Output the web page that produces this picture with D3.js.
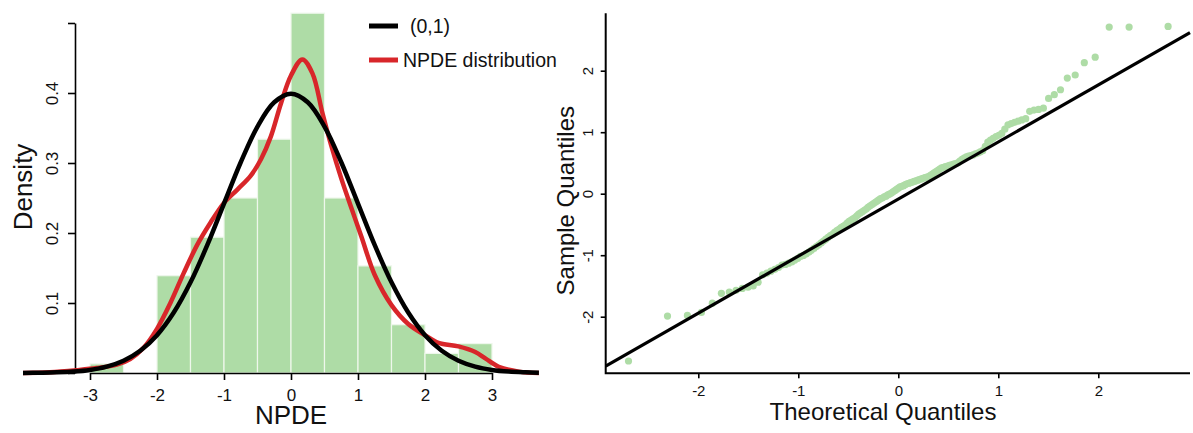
<!DOCTYPE html>
<html>
<head>
<meta charset="utf-8">
<script src="https://cdn.jsdelivr.net/npm/d3@7"></script>
<style>
  body { margin: 0; background: #fff; }
  text { font-family: "Liberation Sans", Arial, Helvetica, sans-serif; fill: #111; }
</style>
</head>
<body>
<div id="chart"></div>
<script>
// histogram of the npde values (density per 0.5 bin)
var binStarts = [-3, -2.5, -2, -1.5, -1, -0.5, 0, 0.5, 1, 1.5, 2, 2.5];
var binWidth = 0.5;
var binDensity = [0.013, 0, 0.139, 0.194, 0.25, 0.334, 0.514, 0.25, 0.153, 0.069, 0.028, 0.042];

// standard normal reference curve (0,1)
var normX = [-4, -3.75, -3.5, -3.25, -3, -2.75, -2.5, -2.25, -2, -1.75, -1.5, -1.25, -1, -0.75, -0.5, -0.25,
  0, 0.25, 0.5, 0.75, 1, 1.25, 1.5, 1.75, 2, 2.25, 2.5, 2.75, 3, 3.25, 3.5, 3.7];
var normY = [0.0001, 0.0004, 0.0009, 0.002, 0.0044, 0.0091, 0.0175, 0.0317, 0.054, 0.0863, 0.1295, 0.1826, 0.242, 0.3011, 0.3521, 0.3867,
  0.3989, 0.3867, 0.3521, 0.3011, 0.242, 0.1826, 0.1295, 0.0863, 0.054, 0.0317, 0.0175, 0.0091, 0.0044, 0.002, 0.0009, 0.0004];

// npde kernel density
var npdeX = [-4, -3.6, -3.2, -2.9, -2.6, -2.4, -2.2, -2, -1.8, -1.6, -1.4, -1.2, -1, -0.8, -0.6, -0.45, -0.3, -0.15,
  0, 0.17, 0.32, 0.47, 0.6, 0.75, 0.9, 1.05, 1.25, 1.5, 1.75, 2, 2.2, 2.5, 2.75, 2.9, 3.1, 3.4, 3.7];
var npdeY = [0, 0.001, 0.004, 0.007, 0.012, 0.02, 0.036, 0.063, 0.1, 0.143, 0.183, 0.215, 0.243, 0.262, 0.282, 0.305, 0.338, 0.385,
  0.425, 0.448, 0.428, 0.371, 0.325, 0.278, 0.236, 0.195, 0.14, 0.097, 0.07, 0.054, 0.043, 0.038, 0.03, 0.021, 0.009, 0.002, 0];

var densityTicks = [0, 0.1, 0.2, 0.3, 0.4, 0.5];
var npdeTicks = [-3, -2, -1, 0, 1, 2, 3];

// qq plot: theoretical vs sample quantiles
var theoQ = [-2.698, -2.308, -2.109, -1.969, -1.86, -1.769, -1.69, -1.622, -1.56, -1.503,
  -1.451, -1.402, -1.357, -1.314, -1.274, -1.235, -1.198, -1.163, -1.129, -1.097,
  -1.065, -1.035, -1.005, -0.977, -0.949, -0.922, -0.895, -0.87, -0.844, -0.819,
  -0.795, -0.771, -0.748, -0.725, -0.702, -0.68, -0.658, -0.637, -0.615, -0.594,
  -0.573, -0.553, -0.532, -0.512, -0.492, -0.472, -0.453, -0.433, -0.414, -0.396,
  -0.377, -0.358, -0.34, -0.321, -0.303, -0.285, -0.266, -0.248, -0.23, -0.212,
  -0.195, -0.177, -0.159, -0.141, -0.123, -0.105, -0.088, -0.07, -0.053, -0.035,
  -0.018, 0,
  0.018, 0.035, 0.053, 0.07, 0.088, 0.105, 0.123, 0.141, 0.159, 0.177,
  0.195, 0.212, 0.23, 0.248, 0.266, 0.285, 0.303, 0.321, 0.34, 0.358,
  0.377, 0.396, 0.414, 0.433, 0.453, 0.472, 0.492, 0.512, 0.532, 0.553,
  0.573, 0.594, 0.615, 0.637, 0.658, 0.68, 0.702, 0.725, 0.748, 0.771,
  0.795, 0.819, 0.844, 0.87, 0.895, 0.922, 0.949, 0.977, 1.005, 1.035,
  1.065, 1.097, 1.129, 1.163, 1.198, 1.235, 1.274, 1.314, 1.357, 1.402,
  1.451, 1.503, 1.56, 1.622, 1.69, 1.769, 1.86, 1.969, 2.109, 2.308, 2.698];
var sampleQ = [-2.72,
  -1.99, -1.98, -1.93, -1.78, -1.62, -1.6, -1.57, -1.54, -1.52, -1.5,
  -1.44, -1.32, -1.29, -1.26, -1.23, -1.2, -1.16, -1.15, -1.13, -1.11, -1.08, -1.05, -1.02, -1.005,
  -0.98, -0.95, -0.92, -0.89, -0.86, -0.83, -0.8, -0.77, -0.74, -0.71, -0.68, -0.66, -0.63, -0.6, -0.58, -0.55, -0.53, -0.51,
  -0.48, -0.45, -0.43, -0.41, -0.39, -0.36, -0.33, -0.31, -0.29, -0.27, -0.25, -0.22, -0.2, -0.18, -0.16, -0.14, -0.12, -0.1,
  -0.08, -0.07, -0.05, -0.04, -0.02, -0.005,
  0.01, 0.03, 0.05, 0.07, 0.09, 0.11, 0.12, 0.13, 0.15, 0.16, 0.17, 0.18, 0.19, 0.2, 0.21, 0.22, 0.23, 0.24, 0.25, 0.26,
  0.27, 0.28, 0.3, 0.32, 0.34, 0.36, 0.38, 0.4, 0.42, 0.43, 0.44, 0.45, 0.46, 0.47, 0.48, 0.49, 0.5,
  0.53, 0.56, 0.58, 0.6, 0.61, 0.62, 0.63, 0.65, 0.66, 0.68, 0.7, 0.77, 0.84, 0.87, 0.9, 0.93, 0.95, 0.98,
  1.05, 1.12, 1.14, 1.16, 1.18, 1.2, 1.22, 1.34, 1.36, 1.37, 1.39,
  1.55, 1.61, 1.69, 1.88, 1.93,
  2.13, 2.22,
  2.71, 2.71, 2.72];
// qqline through the quartiles
var qqIntercept = -0.087;
var qqSlope = 0.928;
var qqTicks = [-2, -1, 0, 1, 2];

var legendKeys = ["(0,1)", "NPDE distribution"];
var legendColors = ["#000000", "#d8262a"];

var svgWidth = 1193;
var svgHeight = 433;
var green = "#aedca6";

var svg = d3.select("#chart")
  .append("svg")
  .attr("width", svgWidth)
  .attr("height", svgHeight);

//---------------- left panel: histogram + densities
var xLeft = d3.scaleLinear().domain([-3, 3]).range([90, 492]);
var yLeft = d3.scaleLinear().domain([0, 0.5]).range([373, 23]);

var bars = svg.append("g");
bars.selectAll("rect")
  .data(binStarts)
  .enter()
  .append("rect")
  .attr("x", d => xLeft(d))
  .attr("width", d => xLeft(d + binWidth) - xLeft(d))
  .attr("y", (d, i) => yLeft(binDensity[i]))
  .attr("height", (d, i) => yLeft(0) - yLeft(binDensity[i]))
  .attr("fill", green)
  .attr("stroke", (d, i) => binDensity[i] > 0 ? "#eef7ec" : "#c4c4c4")
  .attr("stroke-width", 1.2);

//axes in R style (no outer ticks, labels parallel to the y axis, plain hyphen minus)
var leftAxis = d3.axisLeft(yLeft)
  .tickValues(densityTicks)
  .tickSize(7)
  .tickSizeOuter(0)
  .tickFormat(d => (d > 0 && d < 0.5) ? d.toFixed(1) : "");
var gy = svg.append("g")
  .attr("transform", "translate(75,0)")
  .call(leftAxis);
gy.selectAll("text")
  .attr("transform", "rotate(-90)")
  .attr("x", 0)
  .attr("y", -17)
  .attr("dy", 0)
  .attr("text-anchor", "middle")
  .style("font-size", "17px");

var bottomAxis = d3.axisBottom(xLeft)
  .tickValues(npdeTicks)
  .tickSize(7)
  .tickSizeOuter(0)
  .tickFormat(d => String(d));
var gx = svg.append("g")
  .attr("transform", `translate(0, ${yLeft(0)})`)
  .call(bottomAxis);
gx.selectAll("text")
  .attr("y", 16)
  .attr("dy", "0.71em")
  .style("font-size", "17px");

svg.selectAll(".domain, .tick line")
  .attr("stroke", "#000")
  .attr("stroke-width", 1.6);

var lineGen = d3.line()
  .x(d => xLeft(d[0]))
  .y(d => yLeft(d[1]))
  .curve(d3.curveCatmullRom);

svg.append("path")
  .datum(npdeX.map((x, i) => [x, npdeY[i]]))
  .attr("d", lineGen)
  .attr("fill", "none")
  .attr("stroke", legendColors[1])
  .attr("stroke-width", 4.5);

svg.append("path")
  .datum(normX.map((x, i) => [x, normY[i]]))
  .attr("d", lineGen)
  .attr("fill", "none")
  .attr("stroke", legendColors[0])
  .attr("stroke-width", 4.5);

svg.append("text")
  .attr("transform", "translate(32, 187) rotate(-90)")
  .attr("text-anchor", "middle")
  .style("font-size", "26px")
  .text("Density");

svg.append("text")
  .attr("x", xLeft(0))
  .attr("y", 424)
  .attr("text-anchor", "middle")
  .style("font-size", "26px")
  .text("NPDE");

//legend
var legend = svg.selectAll(".lineLegend").data(legendKeys)
  .enter().append("g")
  .attr("class", "lineLegend")
  .attr("transform", (d, i) => `translate(369, ${26 + i * 34})`);
legend.append("line")
  .attr("x1", 0).attr("x2", 29)
  .attr("stroke", (d, i) => legendColors[i])
  .attr("stroke-width", 5);
legend.append("text")
  .attr("x", (d, i) => i === 0 ? 41 : 34)
  .attr("y", 7)
  .style("font-size", "19.5px")
  .text(d => d);

//---------------- right panel: normal qq plot
var xQQ = d3.scaleLinear().domain([-2, 2]).range([698.3, 1098.3]);
var yQQ = d3.scaleLinear().domain([-2, 2]).range([316.7, 70.7]);
var boxLeft = 605.7, boxRight = 1190, boxTop = 13.3, boxBottom = 373.3;

svg.append("g")
  .selectAll("circle")
  .data(theoQ)
  .enter()
  .append("circle")
  .attr("cx", d => xQQ(d))
  .attr("cy", (d, i) => yQQ(sampleQ[i]))
  .attr("r", 3.6)
  .attr("fill", green);

var xa = xQQ.invert(boxLeft), xb = xQQ.invert(boxRight);
svg.append("line")
  .attr("x1", boxLeft)
  .attr("x2", boxRight)
  .attr("y1", yQQ(qqIntercept + qqSlope * xa))
  .attr("y2", yQQ(qqIntercept + qqSlope * xb))
  .attr("stroke", "#000")
  .attr("stroke-width", 3.2);

// L shaped box
svg.append("path")
  .attr("d", `M${boxLeft},${boxTop}V${boxBottom}H${boxRight}`)
  .attr("fill", "none")
  .attr("stroke", "#000")
  .attr("stroke-width", 2);

var qqLeft = d3.axisLeft(yQQ).tickValues(qqTicks).tickSize(5).tickFormat(d => String(d));
var gqy = svg.append("g")
  .attr("transform", `translate(${boxLeft},0)`)
  .call(qqLeft);
gqy.select(".domain").remove();
gqy.selectAll("text")
  .attr("transform", "rotate(-90)")
  .attr("x", 0)
  .attr("y", -13)
  .attr("dy", 0)
  .attr("text-anchor", "middle")
  .style("font-size", "15px");

var qqBottom = d3.axisBottom(xQQ).tickValues(qqTicks).tickSize(5).tickFormat(d => String(d));
var gqx = svg.append("g")
  .attr("transform", `translate(0, ${boxBottom})`)
  .call(qqBottom);
gqx.select(".domain").remove();
gqx.selectAll("text")
  .attr("y", 12)
  .attr("dy", "0.71em")
  .style("font-size", "15px");
svg.selectAll(".tick line").attr("stroke", "#000").attr("stroke-width", 1.6);

svg.append("text")
  .attr("transform", `translate(574, ${yQQ(0) + 7}) rotate(-90)`)
  .attr("text-anchor", "middle")
  .style("font-size", "24px")
  .text("Sample Quantiles");

svg.append("text")
  .attr("x", 883)
  .attr("y", 420)
  .attr("text-anchor", "middle")
  .style("font-size", "24px")
  .text("Theoretical Quantiles");
</script>
</body>
</html>
